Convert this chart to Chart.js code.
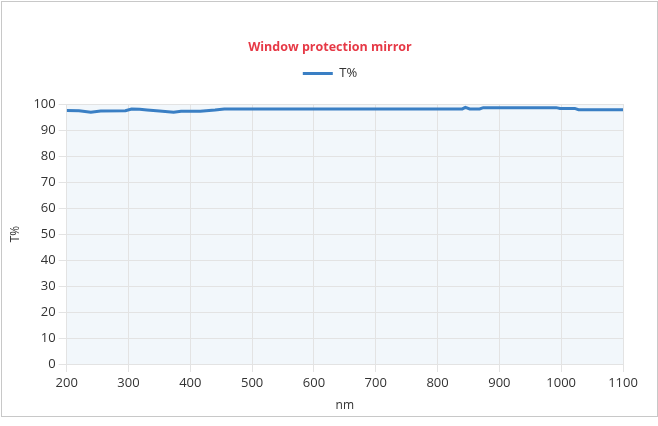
<!DOCTYPE html>
<html>
<head>
<meta charset="utf-8">
<script src="https://cdn.jsdelivr.net/npm/chart.js@4"></script>
<style>
  body { margin: 0; background: #fff; }
  #box { position: absolute; left: 1px; top: 1px; width: 655px; height: 414px; border: 1px solid #c8c8c8; }
</style>
</head>
<body>
<div id="box"><canvas id="myChart"></canvas></div>
<script>
const wavelengths = [200, 220, 239, 255, 295, 305, 318, 330, 350, 373, 385, 416, 440, 455, 840, 845, 852, 868, 874, 992, 998, 1022, 1028, 1100];
const transmission = [97.5, 97.4, 96.8, 97.3, 97.4, 98.1, 98.0, 97.7, 97.3, 96.8, 97.2, 97.2, 97.7, 98.1, 98.1, 98.7, 98.1, 98.1, 98.6, 98.6, 98.3, 98.3, 97.8, 97.8];
const yTicks = [0, 10, 20, 30, 40, 50, 60, 70, 80, 90, 100];

const areaBg = {
    id: 'areaBg',
    beforeDraw(chart) {
        const { ctx, chartArea } = chart;
        ctx.save();
        ctx.fillStyle = '#f2f7fb';
        ctx.fillRect(chartArea.left, chartArea.top, chartArea.right - chartArea.left, chartArea.bottom - chartArea.top);
        ctx.restore();
    }
};

// legend needs some room under it before the plot
const legendGap = {
    id: 'legendGap',
    beforeInit(chart) {
        const fit = chart.legend.fit;
        chart.legend.fit = function () {
            fit.bind(chart.legend)();
            this.height += 14;
        };
    }
};

Chart.defaults.font.family = '"Open Sans", "Noto Sans", sans-serif';
Chart.defaults.color = '#333';

const chartElement = document.getElementById('myChart');
new Chart(chartElement, {
    type: 'line',
    data: {
        datasets: [{
            label: 'T%',
            data: wavelengths.map((w, i) => ({ x: w, y: transmission[i] })),
            borderColor: '#3a7fc4',
            backgroundColor: '#3a7fc4',
            borderWidth: 3,
            pointRadius: 0,
            tension: 0
        }]
    },
    options: {
        responsive: true,
        maintainAspectRatio: false,
        animation: false,
        layout: { padding: { left: 6, right: 5, top: 38, bottom: 0 } },
        plugins: {
            title: {
                display: true,
                text: 'Window protection mirror',
                color: '#e63946',
                font: { size: 12.5, weight: 'bold' },
                padding: { top: 0, bottom: 2 }
            },
            legend: {
                labels: {
                    boxWidth: 30,
                    boxHeight: 3,
                    font: { size: 13 },
                    color: '#333',
                    generateLabels: chart => Chart.defaults.plugins.legend.labels.generateLabels(chart)
                        .map(l => Object.assign(l, { lineWidth: 0 }))
                }
            },
            tooltip: { enabled: false }
        },
        scales: {
            x: {
                type: 'linear',
                min: 200,
                max: 1100,
                ticks: { stepSize: 100, font: { size: 13 }, callback: v => String(v) },
                grid: { color: '#e3e3e3' },
                border: { display: false },
                title: { display: true, text: 'nm', font: { size: 12 }, padding: { top: 5, bottom: 3 } }
            },
            y: {
                min: 0,
                max: 100,
                afterBuildTicks: axis => { axis.ticks = yTicks.map(v => ({ value: v })); },
                ticks: { font: { size: 13 } },
                grid: { color: '#e3e3e3' },
                border: { display: false },
                title: { display: true, text: 'T%', font: { size: 12 }, padding: { top: 0, bottom: 8 } }
            },
            // empty spacer on the right so the title stays centred on the page
            spacer: {
                position: 'right',
                min: 0,
                max: 100,
                ticks: { display: false },
                grid: { display: false },
                border: { display: false },
                afterFit: s => { s.width = 29; }
            }
        }
    },
    plugins: [areaBg, legendGap]
});
</script>
</body>
</html>
